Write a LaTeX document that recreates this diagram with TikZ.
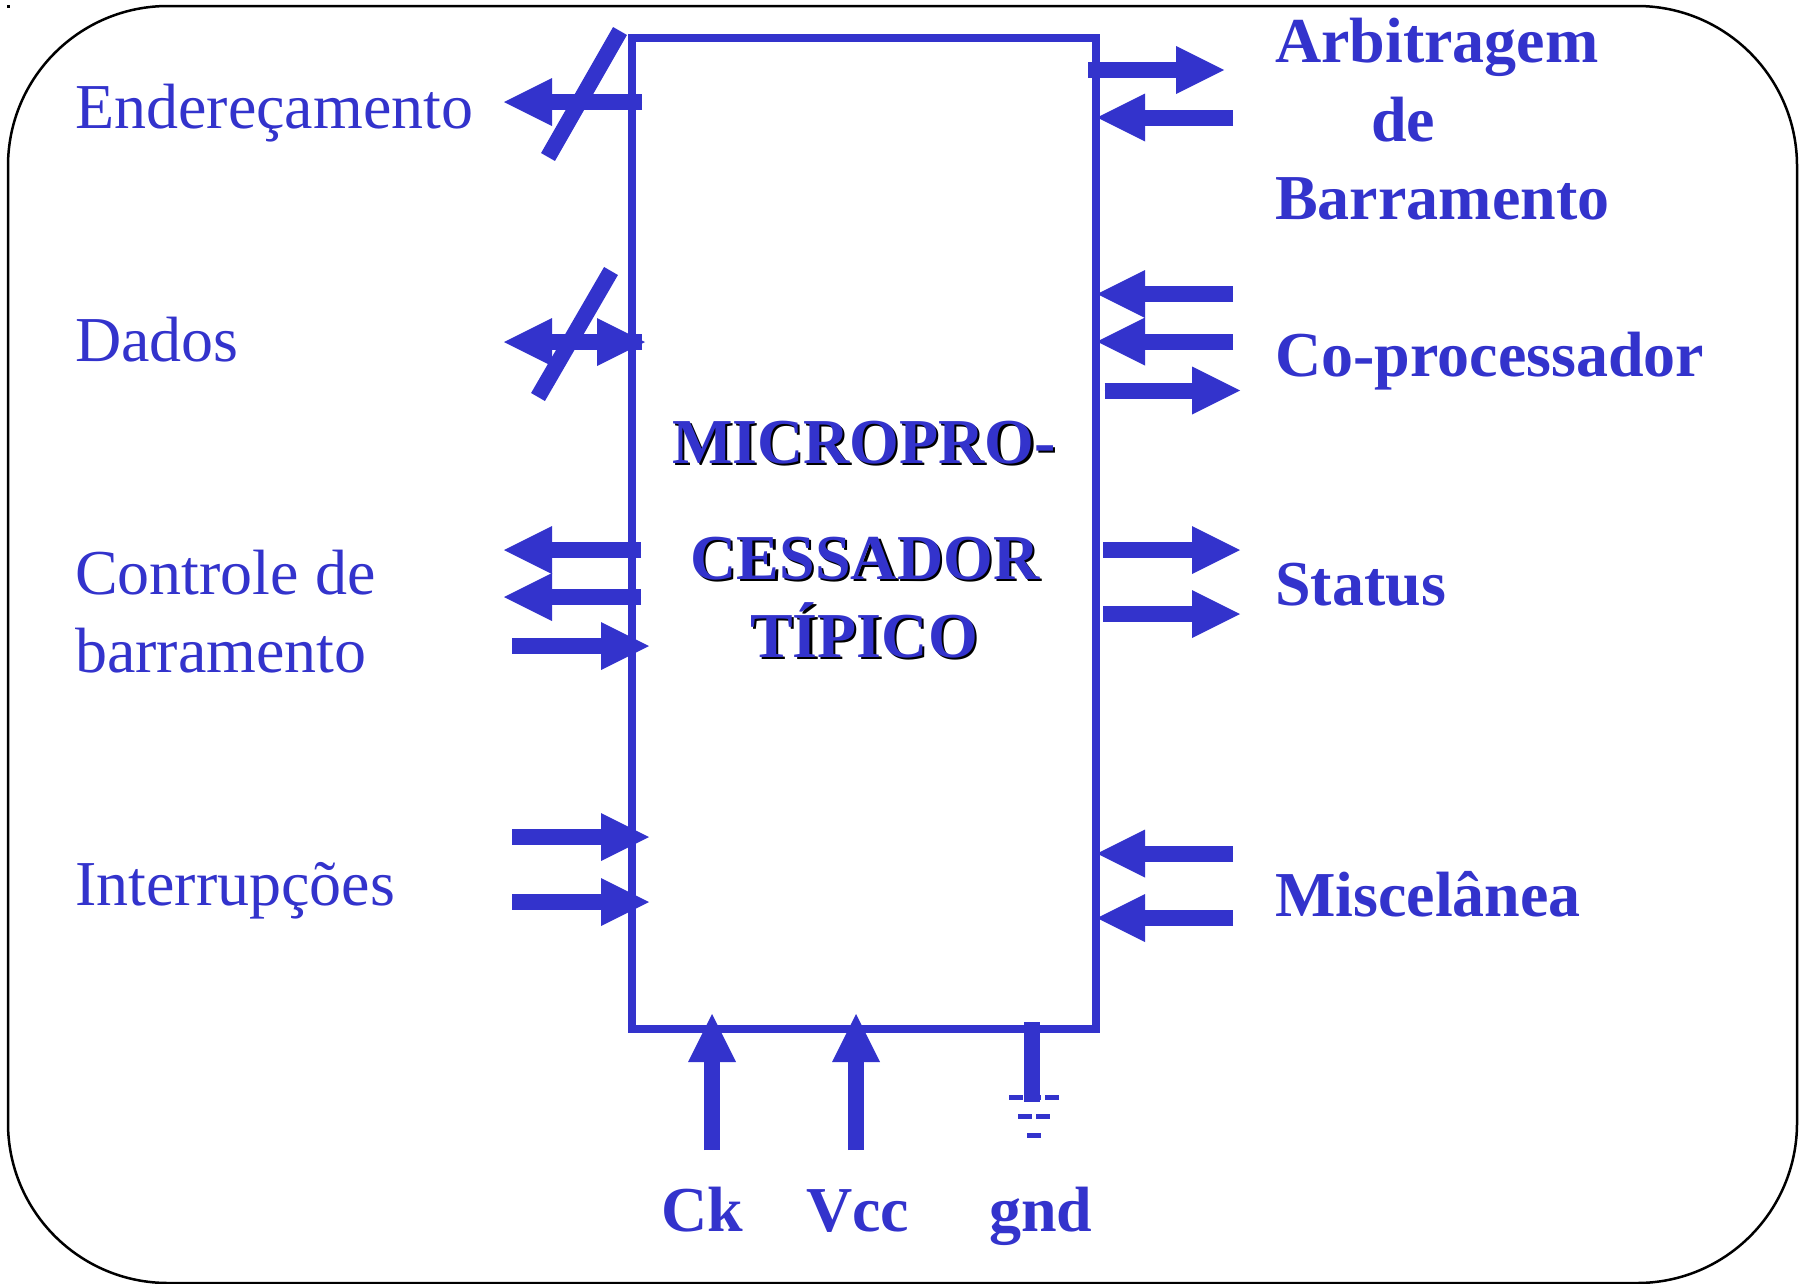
\documentclass[tikz,border=0pt]{standalone}
\usepackage{fontspec}
\setmainfont{Liberation Serif}
\usetikzlibrary{arrows.meta}
\definecolor{azul}{HTML}{3333CC}
\newcommand{\sombra}[1]{\leavevmode\rlap{\kern2.2pt\raisebox{-2.2pt}{\color{black}#1}}\textcolor{azul}{#1}}
\tikzset{
  frame/.style={draw=black,line width=2.5pt,rounded corners=160pt},
  chip/.style={draw=azul,line width=8pt,miter limit=10},
  sig/.style={draw=azul,line width=16pt,-{Triangle[length=48pt,width=48pt,line width=0pt]},fill=azul},
  bar/.style={draw=azul,line width=16pt},
  tick/.style={draw=azul,line width=5pt},
  lbl/.style={anchor=base west,inner sep=0pt,text=azul,font=\fontsize{64}{64}\selectfont},
  blbl/.style={lbl,font=\fontsize{64}{64}\selectfont\bfseries},
  ctr/.style={anchor=base,inner sep=0pt,font=\fontsize{64}{64}\selectfont\bfseries}
}
\begin{document}
\begin{tikzpicture}[x=1pt,y=-1pt]
\useasboundingbox (0,0) rectangle (1806,1283);
\fill[black] (6.5,4.5) rectangle (10,7.5);
\draw[frame] (8,6) rectangle (1797,1283);
\draw[chip] (632,38) rectangle (1096,1029);
% Left side anchors
\coordinate (ea) at (642,102); \coordinate (eb) at (504,102);
\coordinate (es1) at (620,31); \coordinate (es2) at (548,157);
\coordinate (da) at (642,342); \coordinate (db) at (504,342);
\coordinate (dc) at (552,342); \coordinate (dd) at (645,342);
\coordinate (ds1) at (611,271); \coordinate (ds2) at (538,397);
\coordinate (ca) at (641,550); \coordinate (cb) at (504,550);
\coordinate (cc) at (641,597); \coordinate (cd) at (504,597);
\coordinate (ce) at (512,646); \coordinate (cf) at (649,646);
\coordinate (ia) at (512,837); \coordinate (ib) at (649,837);
\coordinate (ic) at (512,902); \coordinate (id) at (649,902);
% Right side anchors
\coordinate (aa) at (1088,70); \coordinate (ab) at (1224,70);
\coordinate (ac) at (1233,117.5); \coordinate (ad) at (1097,117.5);
\coordinate (pa) at (1233,294); \coordinate (pb) at (1097,294);
\coordinate (pc) at (1233,341.5); \coordinate (pd) at (1097,341.5);
\coordinate (pe) at (1104.5,390.5); \coordinate (pf) at (1240,390.5);
\coordinate (sa) at (1103,550); \coordinate (sb) at (1240,550);
\coordinate (sc) at (1103,614); \coordinate (sd) at (1240,614);
\coordinate (ma) at (1233,853.5); \coordinate (mb) at (1097,853.5);
\coordinate (mc) at (1233,918); \coordinate (md) at (1097,918);
% Bottom anchors
\coordinate (ka) at (712,1150); \coordinate (kb) at (712,1014);
\coordinate (va) at (856,1150); \coordinate (vb) at (856,1014);
\coordinate (ga) at (1032,1022); \coordinate (gb) at (1032,1102);
% Arrows
\foreach \s/\e in {ea/eb,da/db,dc/dd,ca/cb,cc/cd,ce/cf,ia/ib,ic/id,aa/ab,ac/ad,pa/pb,pc/pd,pe/pf,sa/sb,sc/sd,ma/mb,mc/md,ka/kb,va/vb}
  \draw[sig] (\s) -- (\e);
\draw[bar] (es1) -- (es2);
\draw[bar] (ds1) -- (ds2);
\draw[bar] (ga) -- (gb);
% Ground symbol
\draw[tick] (1009,1097) -- (1023,1097);
\draw[tick] (1027,1097) -- (1041,1097);
\draw[tick] (1045,1097) -- (1059,1097);
\draw[tick] (1018,1116) -- (1032,1116);
\draw[tick] (1036,1116) -- (1050,1116);
\draw[tick] (1027,1135) -- (1041,1135);
% Labels
\node[lbl] (tend) at (75,128) {Endereçamento};
\node[lbl] (tdad) at (75,361) {Dados};
\node[lbl] (tcon) at (75,594.5) {Controle de};
\node[lbl] (tbar) at (75,672) {barramento};
\node[lbl] (tint) at (75,905.5) {Interrupções};
\node[blbl] (tarb) at (1275,62.5) {Arbitragem};
\node[blbl] (tde) at (1371,141) {de};
\node[blbl] (tbrr) at (1275,219) {Barramento};
\node[blbl] (tcop) at (1275,376) {Co-processador};
\node[blbl] (tsta) at (1275,605) {Status};
\node[blbl] (tmis) at (1275,916) {Miscelânea};
\node[blbl] (tck) at (661,1231) {Ck};
\node[blbl] (tvcc) at (806,1231) {Vcc};
\node[blbl] (tgnd) at (989,1231) {gnd};
\node[ctr] (m1) at (864,463) {\sombra{MICROPRO-}};
\node[ctr] (m2) at (865,579) {\sombra{CESSADOR}};
\node[ctr] (m3) at (864,657) {\sombra{TÍPICO}};
\end{tikzpicture}
\end{document}
